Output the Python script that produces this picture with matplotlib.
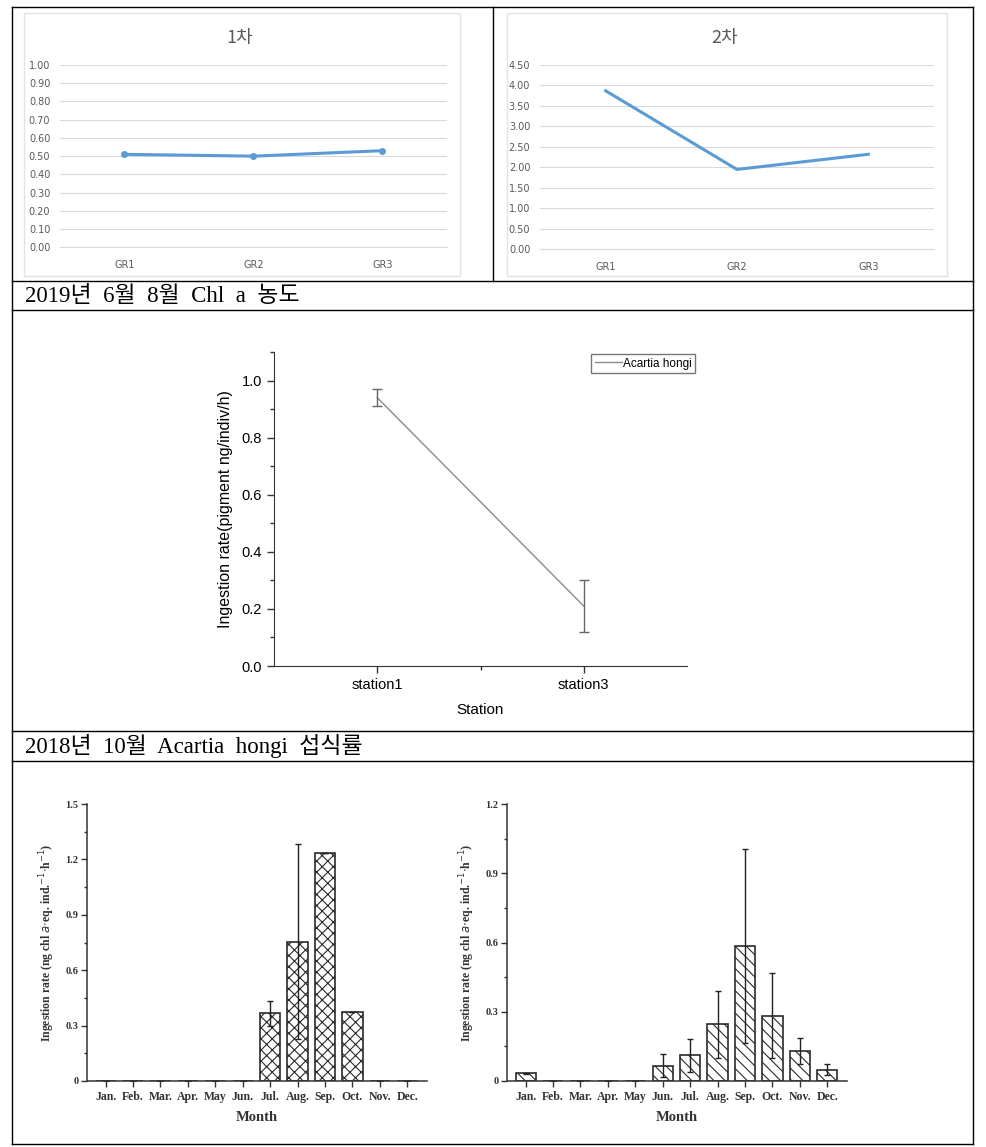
import matplotlib
matplotlib.use('Agg')
import matplotlib.pyplot as plt
from matplotlib.lines import Line2D
from matplotlib.patches import Rectangle
from matplotlib.ticker import MultipleLocator, FormatStrFormatter, FixedLocator
import numpy as np

plt.rcParams['hatch.linewidth'] = 0.8

# --- data ---
gr_labels = ['GR1', 'GR2', 'GR3']
chl_1st = [0.51, 0.50, 0.53]
chl_2nd = [3.87, 1.95, 2.32]

stations = ['station1', 'station3']
ingest_station = [0.94, 0.21]
ingest_station_err = [0.03, 0.09]

months = ['Jan.', 'Feb.', 'Mar.', 'Apr.', 'May', 'Jun.', 'Jul.', 'Aug.', 'Sep.', 'Oct.', 'Nov.', 'Dec.']
rate_a = [0, 0, 0, 0, 0, 0, 0.367, 0.754, 1.235, 0.375, 0, 0]
rate_a_err = [0, 0, 0, 0, 0, 0, 0.068, 0.527, 0, 0, 0, 0]
rate_b = [0.033, 0, 0, 0, 0, 0.066, 0.111, 0.246, 0.586, 0.283, 0.13, 0.048]
rate_b_err = [0.003, 0, 0, 0, 0, 0.05, 0.072, 0.145, 0.42, 0.184, 0.058, 0.024]

# wide spacing like the original document font
caption1 = '2019년  6월  8월  Chl  a  농도'
caption2 = '2018년  10월  Acartia  hongi  섭식률'

W, H = 986, 1147
fig = plt.figure(figsize=(W / 100, H / 100), dpi=100)


def ax_px(x0, y0, x1, y1):
    return fig.add_axes([x0 / W, 1 - y1 / H, (x1 - x0) / W, (y1 - y0) / H])


def fx(x):
    return x / W


def fy(y):
    return 1 - y / H


def line(x0, y0, x1, y1, color='black', lw=1.0):
    fig.add_artist(Line2D([fx(x0), fx(x1)], [fy(y0), fy(y1)], color=color, lw=lw,
                          transform=fig.transFigure))


# table borders
line(12, 7, 973, 7)
line(12, 1144, 973, 1144)
line(12, 7, 12, 1144)
line(973, 7, 973, 1144)
line(493, 7, 493, 281)
for yy in [281, 310, 731, 761]:
    line(12, yy, 973, yy)

kr_serif = ['Liberation Serif', 'Noto Sans CJK KR']
fig.text(fx(25), fy(296), caption1, family=kr_serif, fontsize=16.5, va='center', ha='left')
fig.text(fx(25), fy(746), caption2, family=kr_serif, fontsize=16.5, va='center', ha='left')

# --- excel style charts (top row) ---
excel_blue = '#5B9BD5'
grid_c = '#D9D9D9'
lab_c = '#595959'


def excel_chart(box, frame, vals, ymax, step, title, tx, marker):
    fig.add_artist(Rectangle((fx(frame[0]), fy(frame[3])), fx(frame[2] - frame[0]),
                             (frame[3] - frame[1]) / H, transform=fig.transFigure,
                             fill=False, edgecolor='#E3E3E3', lw=1))
    ax = ax_px(*box)
    x = np.arange(1, len(vals) + 1)
    ax.plot(x, vals, color=excel_blue, lw=2.2, marker=marker, ms=4, zorder=3)
    ax.set_xlim(0.5, len(vals) + 0.5)
    ax.set_ylim(0, ymax)
    ax.yaxis.set_major_locator(MultipleLocator(step))
    ax.yaxis.set_major_formatter(FormatStrFormatter('%.2f'))
    ax.grid(axis='y', color=grid_c, lw=0.8)
    ax.set_axisbelow(True)
    for s in ['top', 'right', 'left']:
        ax.spines[s].set_visible(False)
    ax.spines['bottom'].set_color(grid_c)
    ax.set_xticks(x)
    ax.set_xticklabels(gr_labels)
    ax.tick_params(length=0, labelsize=7, labelcolor=lab_c)
    ax.tick_params(axis='x', pad=9)
    ax.tick_params(axis='y', pad=7)
    fig.text(fx(tx), fy(38), title, family=['Noto Sans CJK KR', 'DejaVu Sans'],
             fontsize=13, color=lab_c, ha='center', va='center')
    return ax


excel_chart((60, 65, 447, 247.3), (24, 13, 460, 276), chl_1st, 1.0, 0.1, '1차', 240, 'o')
excel_chart((540, 65, 934, 249.3), (507, 13, 947, 276), chl_2nd, 4.5, 0.5, '2차', 725, None)

# --- middle origin-style chart ---
sans = 'Liberation Sans'
ax = ax_px(274, 352, 687, 666)
xs = np.arange(1, len(stations) + 1)
ax.plot(xs, ingest_station, color='#8a8a8a', lw=1, label='Acartia hongi')
ax.errorbar(xs, ingest_station, yerr=ingest_station_err, fmt='none',
            ecolor='#666666', elinewidth=1, capsize=3.5)
ax.set_xlim(0.5, 2.5)
ax.set_ylim(0, 1.1)
ax.set_xticks(xs)
ax.set_xticklabels(stations, family=sans)
ax.xaxis.set_minor_locator(FixedLocator([1.5]))
ax.yaxis.set_major_locator(MultipleLocator(0.2))
ax.yaxis.set_minor_locator(MultipleLocator(0.1))
ax.yaxis.set_major_formatter(FormatStrFormatter('%.1f'))
for t in ax.get_yticklabels():
    t.set_family(sans)
for s in ['top', 'right']:
    ax.spines[s].set_visible(False)
for s in ['left', 'bottom']:
    ax.spines[s].set_color('#333333')
ax.tick_params(direction='out', length=5, width=1, labelsize=10.5, color='#333333')
ax.tick_params(which='minor', direction='out', length=3, width=1, color='#333333')
ax.set_ylabel('Ingestion rate(pigment ng/indiv/h)', family=sans, fontsize=11.5, labelpad=6)
ax.set_xlabel('Station', family=sans, fontsize=11, labelpad=8)
ax.legend(loc='upper left', bbox_to_anchor=(fx(591), fy(354)), bbox_transform=fig.transFigure,
          prop={'family': sans, 'size': 8.5}, frameon=True, fancybox=False,
          edgecolor='#555555', handlelength=2.3, handletextpad=0.1, borderpad=0.3,
          borderaxespad=0)

# --- bottom bar charts ---
serif = 'Liberation Serif'


def month_chart(box, vals, errs, ymax, hatch):
    ax = ax_px(*box)
    x = np.arange(len(months))
    ax.bar(x, vals, width=0.74, facecolor='white', edgecolor='#2b2b2b', lw=1.2, hatch=hatch)
    ax.errorbar(x, vals, yerr=errs, fmt='none', ecolor='#222222', elinewidth=1, capsize=2)
    ax.set_xlim(-0.68, 11.72)
    ax.set_ylim(0, ymax)
    ax.set_xticks(x)
    ax.set_xticklabels(months)
    ax.yaxis.set_major_locator(MultipleLocator(0.3))
    ax.yaxis.set_minor_locator(MultipleLocator(0.15))
    ax.yaxis.set_major_formatter(lambda v, p: '0' if abs(v) < 1e-9 else '%.1f' % v)
    for s in ['top', 'right']:
        ax.spines[s].set_visible(False)
    for s in ['left', 'bottom']:
        ax.spines[s].set_color('#333333')
        ax.spines[s].set_linewidth(1.1)
    ax.tick_params(direction='out', length=4, width=1, color='#333333', labelsize=7.5, pad=2)
    ax.tick_params(axis='x', labelsize=8.5, pad=3)
    ax.tick_params(which='minor', direction='out', length=2.5, width=1, color='#333333')
    for t in ax.get_xticklabels() + ax.get_yticklabels():
        t.set_family(serif)
        t.set_fontweight('bold')
        t.set_color('#333333')
    ax.set_xlabel('Month', family=serif, fontweight='bold', fontsize=10.5, color='#333333', labelpad=6)
    ax.set_ylabel(r'Ingestion rate (ng chl $\mathit{a}$$\cdot$eq. ind.$^{-1}$$\cdot$h$^{-1}$)',
                  family=serif, fontweight='bold', fontsize=8.5, color='#333333', labelpad=6)
    return ax


month_chart((87, 804, 427, 1081), rate_a, rate_a_err, 1.5, 'xxx')
month_chart((507, 804, 847, 1081), rate_b, rate_b_err, 1.2, '\\\\\\')

fig.savefig('out.png', dpi=100, facecolor='white')
